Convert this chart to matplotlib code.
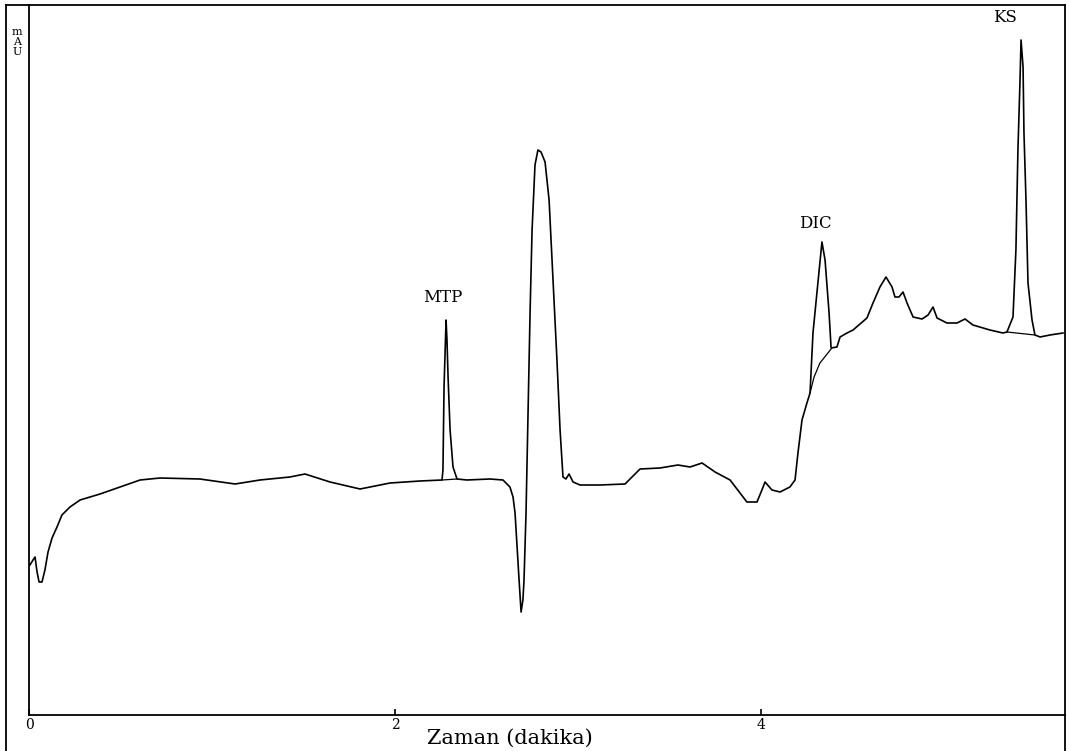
import matplotlib
matplotlib.use('Agg')
import matplotlib.pyplot as plt
from matplotlib.lines import Line2D

# Chromatogram trace: time (min) and signal (mAU)
time_min = [0.005, 0.022, 0.033, 0.044, 0.055, 0.071, 0.087, 0.104, 0.126, 0.153,
            0.180, 0.224, 0.279, 0.388, 0.497, 0.607, 0.716, 0.934, 1.126, 1.262,
            1.426, 1.508, 1.645, 1.809, 1.973, 2.137, 2.257, 2.262, 2.268, 2.279,
            2.284, 2.290, 2.301, 2.317, 2.339, 2.393, 2.519, 2.590, 2.628, 2.645,
            2.656, 2.667, 2.678, 2.689, 2.699, 2.705, 2.716, 2.727, 2.738, 2.749,
            2.765, 2.781, 2.798, 2.820, 2.842, 2.858, 2.874, 2.885, 2.902, 2.918,
            2.934, 2.951, 2.973, 3.011, 3.120, 3.257, 3.339, 3.448, 3.546, 3.612,
            3.678, 3.749, 3.831, 3.885, 3.923, 3.978, 4.005, 4.022, 4.060, 4.104,
            4.158, 4.186, 4.202, 4.224, 4.251, 4.268, 4.284, 4.311, 4.333, 4.350,
            4.361, 4.372, 4.383, 4.415, 4.432, 4.470, 4.503, 4.579, 4.612, 4.650,
            4.683, 4.716, 4.732, 4.754, 4.776, 4.798, 4.831, 4.880, 4.913, 4.940,
            4.962, 5.016, 5.071, 5.115, 5.158, 5.251, 5.322, 5.344, 5.377, 5.393,
            5.404, 5.415, 5.421, 5.432, 5.437, 5.448, 5.459, 5.481, 5.497, 5.525,
            5.579, 5.650]
signal_mau = [15.0, 15.5, 15.8, 14.3, 13.3, 13.3, 14.5, 16.3, 17.7, 18.8,
              20.0, 20.8, 21.5, 22.1, 22.8, 23.5, 23.7, 23.6, 23.1, 23.5,
              23.8, 24.1, 23.3, 22.6, 23.2, 23.4, 23.5, 24.5, 32.8, 39.5,
              37.5, 33.8, 28.5, 24.8, 23.6, 23.5, 23.6, 23.5, 22.8, 21.8,
              20.2, 16.8, 13.5, 10.3, 11.5, 13.5, 20.2, 30.2, 40.2, 48.5,
              55.0, 56.5, 56.3, 55.3, 51.5, 45.5, 39.5, 35.5, 28.5, 23.8,
              23.6, 24.1, 23.3, 23.0, 23.0, 23.1, 24.6, 24.7, 25.0, 24.8,
              25.2, 24.3, 23.5, 22.2, 21.3, 21.3, 22.5, 23.3, 22.5, 22.3,
              22.8, 23.5, 26.2, 29.5, 31.2, 32.2, 38.2, 43.2, 47.3, 45.5,
              42.8, 40.2, 36.7, 36.8, 37.8, 38.2, 38.5, 39.7, 41.2, 42.8,
              43.8, 42.8, 41.8, 41.8, 42.3, 41.2, 39.8, 39.6, 40.0, 40.8,
              39.7, 39.2, 39.2, 39.6, 39.0, 38.5, 38.2, 38.3, 39.8, 46.5,
              56.5, 63.2, 67.5, 64.8, 58.2, 51.5, 43.2, 39.5, 38.0, 37.8,
              38.0, 38.2]

# integration baselines drawn under the labelled peaks
mtp_base_t = [2.257, 2.339]
mtp_base_v = [23.5, 23.6]
dic_base_t = [4.268, 4.290, 4.322, 4.383]
dic_base_v = [32.2, 33.8, 35.2, 36.6]
ks_base_t = [5.344, 5.497]
ks_base_v = [38.3, 38.0]

peak_names = ['MTP', 'DIC', 'KS']
peak_label_t = [2.262, 4.295, 5.333]
peak_label_v = [41.7, 49.1, 69.7]

xticks = [0, 2, 4]

W, H = 1070, 751
fig = plt.figure(figsize=(W / 100, H / 100), dpi=100)
ax = fig.add_axes([29 / W, (H - 715) / H, (1065 - 29) / W, (715 - 5) / H])

ax.plot(time_min, signal_mau, color='black', lw=1.2)
for bt, bv in [(mtp_base_t, mtp_base_v), (dic_base_t, dic_base_v), (ks_base_t, ks_base_v)]:
    ax.plot(bt, bv, color='black', lw=0.9)

for name, t, v in zip(peak_names, peak_label_t, peak_label_v):
    ax.text(t, v, name, ha='center', va='center', fontsize=12, family='DejaVu Serif')

ax.set_xlim(0, (1065 - 29) / 183)
ax.set_ylim(0, 71)
ax.set_xticks(xticks)
ax.set_xticklabels([str(x) for x in xticks], family='DejaVu Serif', fontsize=10)
ax.tick_params(axis='x', direction='in', length=4, pad=2, width=1.2)
ax.set_yticks([])
for s in ax.spines.values():
    s.set_linewidth(1.3)

fig.text(510 / W, 1 - 738 / H, 'Zaman (dakika)', ha='center', va='center',
         fontsize=15, family='DejaVu Serif')
fig.text(17 / W, 1 - 42 / H, 'm\nA\nU', ha='center', va='center',
         fontsize=8, family='DejaVu Serif', linespacing=1.0)

# outer frame lines of the original printout
fig.add_artist(Line2D([6 / W, 6 / W], [0, 1 - 5 / H], color='black', lw=1.3))
fig.add_artist(Line2D([6 / W, 29 / W], [1 - 5 / H, 1 - 5 / H], color='black', lw=1.3))
fig.add_artist(Line2D([1065 / W, 1065 / W], [0, 36 / H], color='black', lw=1.3))

fig.savefig('out.png', dpi=100)
plt.close(fig)
